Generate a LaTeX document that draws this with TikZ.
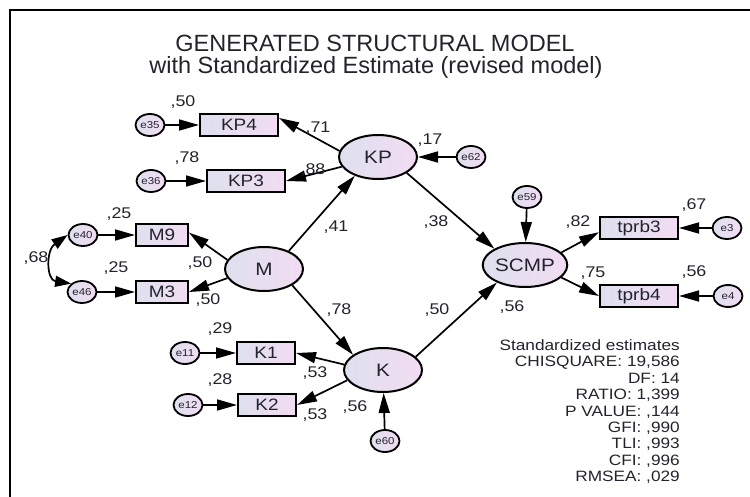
\documentclass[tikz,border=0pt]{standalone}
\usepackage{fontspec}
\setmainfont{Liberation Sans}
\newfontfamily\lblfont{Liberation Sans}[FakeStretch=1.15]
\usetikzlibrary{shapes.geometric,arrows.meta}
\definecolor{lcol}{RGB}{222,224,238}
\definecolor{rcol}{RGB}{242,220,242}
\definecolor{txt}{RGB}{35,35,45}
\begin{document}
\begin{tikzpicture}[x=1pt,y=-1pt,
 every node/.style={inner sep=0pt, text=txt},
 lat/.style={ellipse, draw, line width=2pt, minimum width=78pt, minimum height=44pt, left color=lcol, right color=rcol, font=\lblfont\fontsize{18}{18}\selectfont},
 obs/.style={rectangle, draw, line width=2pt, minimum height=22pt, left color=lcol, right color=rcol, font=\lblfont\fontsize{16.5}{16.5}\selectfont},
 err/.style={ellipse, draw, line width=1.8pt, minimum width=29pt, minimum height=22pt, left color=lcol, right color=rcol, font=\lblfont\fontsize{10}{10}\selectfont},
 lbl/.style={font=\lblfont\fontsize{15.5}{15.5}\selectfont},
 stat/.style={font=\lblfont\fontsize{15}{15}\selectfont},
 arr/.style={line width=1.7pt, -{Triangle[length=20pt,width=11pt]}},
]
\useasboundingbox (0,0) rectangle (750,497);
\draw[line width=2.5pt] (750,10) -- (10,10) -- (10,497);

% title
\node[font=\fontsize{23.5}{23.5}\selectfont] (t1) at (375,43) {GENERATED STRUCTURAL MODEL};
\node[font=\fontsize{23.5}{23.5}\selectfont] (t2) at (376,67) {with Standardized Estimate (revised model)};

% nodes
\node[err] (e35) at (150,125) {e35};
\node[obs, minimum width=78pt] (KP4) at (239,125) {KP4};
\node[err] (e36) at (151,181) {e36};
\node[obs, minimum width=78pt] (KP3) at (246,181) {KP3};
\node[lat] (KP) at (378,157) {KP};
\node[err] (e62) at (471,157) {e62};

\node[err] (e40) at (83,235) {e40};
\node[obs, minimum width=52pt] (M9) at (162,235) {M9};
\node[err] (e46) at (82,292) {e46};
\node[obs, minimum width=52pt] (M3) at (162,292) {M3};
\node[lat] (M) at (264,269) {M};

\node[err] (e11) at (185,353) {e11};
\node[obs, minimum width=58pt] (K1) at (266,353) {K1};
\node[err] (e12) at (188,405) {e12};
\node[obs, minimum width=58pt] (K2) at (267,405) {K2};
\node[lat] (K) at (383,370) {K};
\node[err] (e60) at (385,441) {e60};

\node[err] (e59) at (527,197) {e59};
\node[lat, minimum width=84pt] (SCMP) at (525,265) {SCMP};
\node[obs, minimum width=78pt] (tprb3) at (639,228) {tprb3};
\node[err] (e3) at (727,228) {e3};
\node[obs, minimum width=78pt] (tprb4) at (639,296) {tprb4};
\node[err] (e4) at (728,296) {e4};

% connectors
\draw[arr] (e35) -- (KP4);
\draw[arr] (e36) -- (KP3);
\draw[arr] (KP.171) -- (KP4.10);
\draw[arr] (KP.195) -- (KP3.east);
\draw[arr] (e62) -- (KP);
\draw[arr] (M.36) -- (KP.219);
\draw[arr] (KP.331) -- (SCMP.152);
\draw[arr] (e40) -- (M9);
\draw[arr] (e46) -- (M3);
\draw[arr] (M.166) -- (M9.5);
\draw[arr] (M.194) -- (M3.east);
\draw[arr] (M.330) -- (K.153);
\draw[arr] (K.172) -- (K1.east);
\draw[arr] (K.196) -- (K2.east);
\draw[arr] (e11) -- (K1);
\draw[arr] (e12) -- (K2);
\draw[arr] (e60) -- (K);
\draw[arr] (K.22) -- (SCMP.212);
\draw[arr] (e59) -- (SCMP);
\draw[arr] (SCMP.19) -- (tprb3.186);
\draw[arr] (SCMP.341) -- (tprb4.west);
\draw[arr] (e3) -- (tprb3);
\draw[arr] (e4) -- (tprb4);
\draw[line width=1.7pt, {Triangle[length=16pt,width=11pt]}-{Triangle[length=16pt,width=11pt]}]
  (e40.west) .. controls (46,250) and (46,280) .. (e46.north west);

% labels
\node[lbl] (l1) at (183,102) {,50};
\node[lbl] (l2) at (187,158) {,78};
\node[lbl] (l3) at (318,128) {,71};
\node[lbl] (l4) at (313,170) {,88};
\node[lbl] (l5) at (430,140) {,17};
\node[lbl] (l6) at (336,227) {,41};
\node[lbl] (l7) at (436,222) {,38};
\node[lbl] (l8) at (119,214) {,25};
\node[lbl] (l9) at (116,268) {,25};
\node[lbl] (l10) at (200,263) {,50};
\node[lbl] (l11) at (208,300) {,50};
\node[lbl] (l12) at (36,258) {,68};
\node[lbl] (l13) at (339,310) {,78};
\node[lbl] (l14) at (437,310) {,50};
\node[lbl] (l15) at (220,329) {,29};
\node[lbl] (l16) at (315,373) {,53};
\node[lbl] (l17) at (220,380) {,28};
\node[lbl] (l18) at (315,415) {,53};
\node[lbl] (l19) at (355,407) {,56};
\node[lbl] (l20) at (578,222) {,82};
\node[lbl] (l21) at (694,205) {,67};
\node[lbl] (l22) at (593,273) {,75};
\node[lbl] (l23) at (694,272) {,56};
\node[lbl] (l24) at (512,307) {,56};

% fit statistics
\foreach \t [count=\i from 0] in {{Standardized estimates},{CHISQUARE: 19,586},{DF: 14},{RATIO: 1,399},{P VALUE: ,144},{GFI: ,990},{TLI: ,993},{CFI: ,996},{RMSEA: ,029}}
  \node[stat, anchor=base east] (s\i) at (680,350.5+16.4*\i) {\t};
\end{tikzpicture}
\end{document}
